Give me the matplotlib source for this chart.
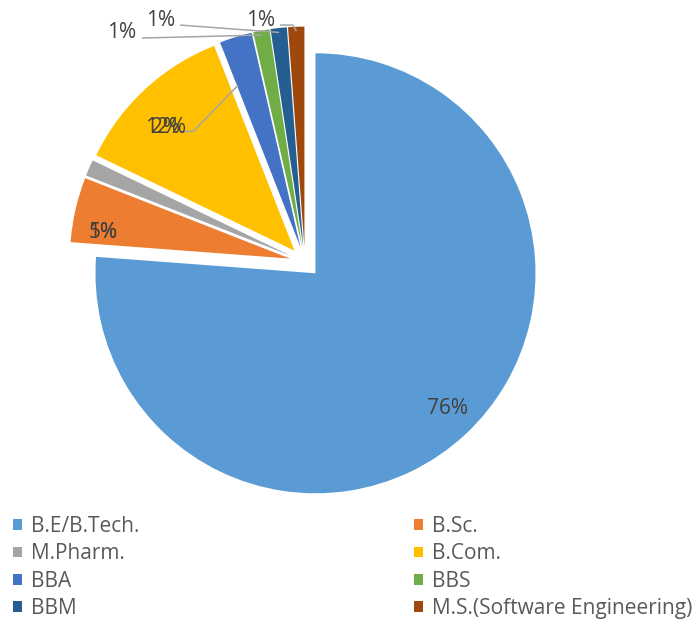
import matplotlib.pyplot as plt
import numpy as np

plt.rcParams['font.family'] = ['Open Sans', 'DejaVu Sans']

degrees = ["B.E/B.Tech.", "B.Sc.", "M.Pharm.", "B.Com.", "BBA", "BBS", "BBM",
           "M.S.(Software Engineering)"]
counts = [64, 4, 1, 10, 2, 1, 1, 1]
colors = ["#5B9BD5", "#ED7D31", "#A5A5A5", "#FFC000", "#4472C4", "#70AD47",
          "#255E91", "#9E480E"]

# data label spots the way excel left them (pie radius = 1)
label_xy = [(0.65, -0.664), (-0.918, 0.136), (-0.918, 0.136), (-0.632, 0.61),
            (-0.632, 0.61), (-0.832, 1.045), (-0.655, 1.10), (-0.20, 1.10)]
# leader lines: slice index -> (points from the label side, radius, fraction of slice span)
leaders = {
    4: ([(-0.568, 0.591), (-0.505, 0.595)], 0.79, 0.95),
    5: ([(-0.741, 1.018)], 0.98, 0.5),
    6: ([(-0.568, 1.077)], 0.98, 0.5),
    7: ([(-0.114, 1.077), (-0.055, 1.077)], 0.98, 0.5),
}

fig = plt.figure(figsize=(6.93, 6.19), dpi=100)
ax = fig.add_axes([0, 0, 1, 1])

wedges, _ = ax.pie(counts, colors=colors, explode=[0.07] * len(counts),
                   startangle=90, counterclock=False, radius=1,
                   wedgeprops=dict(linewidth=0))

total = sum(counts)
for i, w in enumerate(wedges):
    pct = "%d%%" % round(counts[i] / total * 100)
    x, y = label_xy[i]
    ax.text(x, y, pct, ha='center', va='center', fontsize=15, color='#404040')
    if i in leaders:
        pts, r, frac = leaders[i]
        a = np.deg2rad(w.theta1 + frac * (w.theta2 - w.theta1))
        cx, cy = w.center
        anchor = (cx + r * np.cos(a), cy + r * np.sin(a))
        xs = [p[0] for p in pts] + [anchor[0]]
        ys = [p[1] for p in pts] + [anchor[1]]
        ax.plot(xs, ys, color='#A6A6A6', lw=1.1, solid_capstyle='butt')

R = 220
ax.set_xlim(-305 / R, (693 - 305) / R)
ax.set_ylim(-(619 - 262) / R, 262 / R)
ax.set_aspect('auto')
ax.axis('off')

order = [0, 2, 4, 6, 1, 3, 5, 7]
fig.legend([wedges[k] for k in order], [degrees[k] for k in order],
           ncol=2, loc='upper left', bbox_to_anchor=(13 / 693, 1 - 516 / 619),
           frameon=False, fontsize=15, labelcolor='#595959',
           handlelength=0.43, handleheight=0.43, handletextpad=0.43,
           columnspacing=13.2, labelspacing=0.31, borderpad=0, borderaxespad=0)

fig.savefig("out.png", dpi=100)
